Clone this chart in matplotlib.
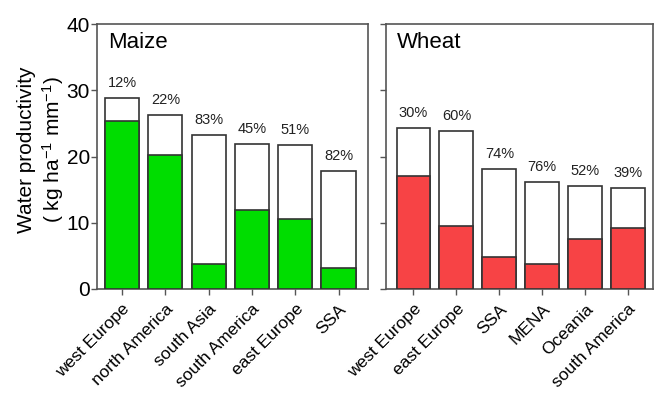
import matplotlib
matplotlib.use("Agg")
import matplotlib.pyplot as plt

plt.rcParams['font.family'] = ['Liberation Sans', 'DejaVu Sans']
plt.rcParams['mathtext.fontset'] = 'custom'
plt.rcParams['mathtext.rm'] = 'Liberation Sans'
plt.rcParams['mathtext.it'] = 'Liberation Sans:italic'
plt.rcParams['mathtext.bf'] = 'Liberation Sans:bold'
plt.rcParams['mathtext.default'] = 'regular'

# Maize: attainable (total) and actual water productivity, kg ha-1 mm-1
maize_regions = ["west Europe", "north America", "south Asia", "south America", "east Europe", "SSA"]
maize_total = [28.9, 26.2, 23.2, 21.9, 21.8, 17.8]
maize_actual = [25.4, 20.3, 3.8, 12.0, 10.6, 3.2]
maize_gap = ["12%", "22%", "83%", "45%", "51%", "82%"]

# Wheat
wheat_regions = ["west Europe", "east Europe", "SSA", "MENA", "Oceania", "south America"]
wheat_total = [24.3, 23.8, 18.1, 16.1, 15.6, 15.2]
wheat_actual = [17.0, 9.5, 4.9, 3.8, 7.5, 9.2]
wheat_gap = ["30%", "60%", "74%", "76%", "52%", "39%"]

EDGE = "#333333"
SPINE = "#555555"

fig = plt.figure(figsize=(6.55, 3.95), dpi=100)
ax1 = fig.add_axes([97 / 655, 106 / 395, 271 / 655, 265 / 395])
ax2 = fig.add_axes([386 / 655, 106 / 395, 267 / 655, 265 / 395])


def draw(ax, regions, total, actual, gap, color, title, xlim):
    x = list(range(len(regions)))
    ax.bar(x, total, width=0.79, color="white", edgecolor=EDGE, linewidth=1.2, zorder=2)
    ax.bar(x, actual, width=0.79, color=color, edgecolor=EDGE, linewidth=1.2, zorder=3)
    for xi, t, g in zip(x, total, gap):
        ax.text(xi, t + 1.2, g, ha="center", va="bottom", fontsize=10.5, color="#222222")
    ax.set_xlim(*xlim)
    ax.set_ylim(0, 40)
    ax.set_yticks([0, 10, 20, 30, 40])
    ax.set_xticks(x)
    ax.set_xticklabels(regions, rotation=45, ha="right", rotation_mode="anchor", fontsize=12.5)
    ax.tick_params(axis="both", direction="out", length=4, width=1, color=SPINE)
    ax.tick_params(axis="x", pad=5)
    ax.tick_params(axis="y", pad=1)
    for s in ax.spines.values():
        s.set_color(SPINE)
        s.set_linewidth(1.2)
    ax.text(0.04, 0.97, title, transform=ax.transAxes, ha="left", va="top", fontsize=16)


draw(ax1, maize_regions, maize_total, maize_actual, maize_gap, "#00DD00", "Maize", (-0.58, 5.68))
draw(ax2, wheat_regions, wheat_total, wheat_actual, wheat_gap, "#F74345", "Wheat", (-0.64, 5.58))

ax1.tick_params(axis="y", labelsize=15)
ax1.set_ylabel("Water productivity\n( kg ha$^{-1}$ mm$^{-1}$)", fontsize=15, linespacing=1.2)
ax1.yaxis.set_label_coords(-0.115, 0.525)
ax2.tick_params(axis="y", labelleft=False)

fig.savefig("out.png", dpi=100)
